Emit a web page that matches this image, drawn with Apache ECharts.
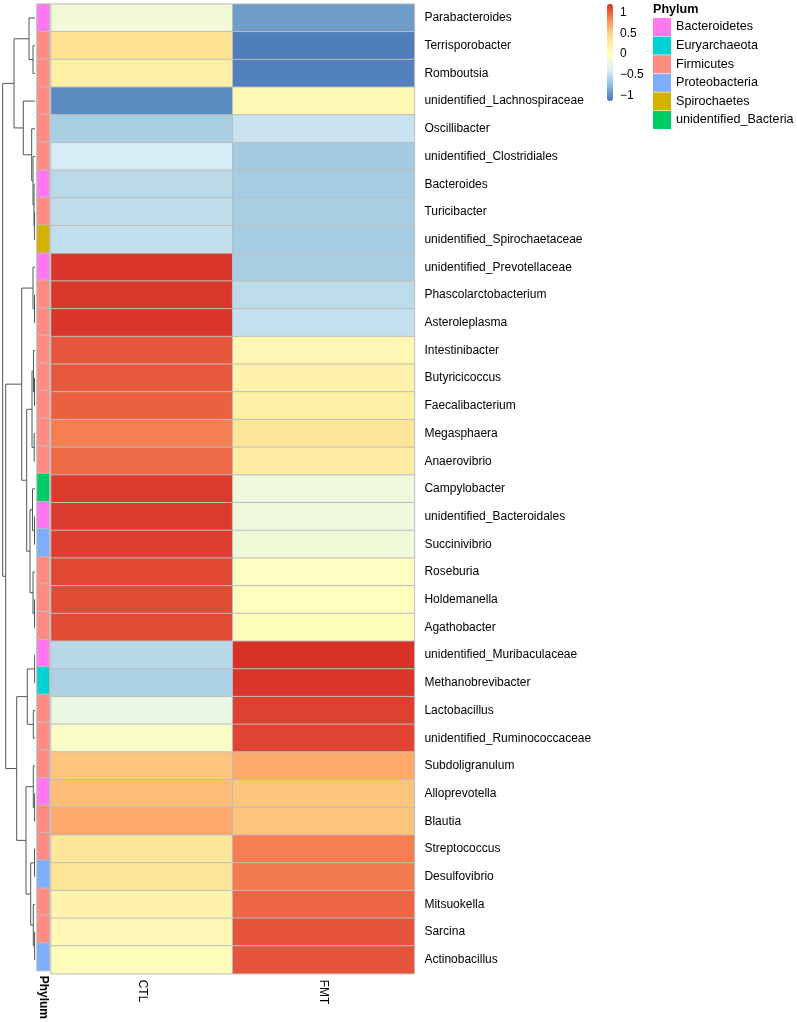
<!DOCTYPE html>
<html>
<head>
<meta charset="utf-8">
<script src="https://cdn.jsdelivr.net/npm/echarts@6/dist/echarts.min.js"></script>
<style>html,body{margin:0;padding:0;background:#fff;}#c{width:797px;height:1022px;}</style>
</head>
<body>
<div id="c"></div>
<script>
const rows = ["Parabacteroides","Terrisporobacter","Romboutsia","unidentified_Lachnospiraceae","Oscillibacter","unidentified_Clostridiales","Bacteroides","Turicibacter","unidentified_Spirochaetaceae","unidentified_Prevotellaceae","Phascolarctobacterium","Asteroleplasma","Intestinibacter","Butyricicoccus","Faecalibacterium","Megasphaera","Anaerovibrio","Campylobacter","unidentified_Bacteroidales","Succinivibrio","Roseburia","Holdemanella","Agathobacter","unidentified_Muribaculaceae","Methanobrevibacter","Lactobacillus","unidentified_Ruminococcaceae","Subdoligranulum","Alloprevotella","Blautia","Streptococcus","Desulfovibrio","Mitsuokella","Sarcina","Actinobacillus"];
const columns = ["CTL","FMT"];
const ctl = [-0.18,0.35,0.19,-1.06,-0.66,-0.44,-0.58,-0.56,-0.54,1.15,1.14,1.15,1.01,1.0,0.97,0.84,0.93,1.13,1.12,1.11,1.07,1.06,1.06,-0.59,-0.64,-0.26,-0.05,0.52,0.55,0.65,0.3,0.34,0.15,0.1,0.03];
const fmt = [-0.96,-1.12,-1.11,0.09,-0.51,-0.69,-0.68,-0.67,-0.68,-0.67,-0.57,-0.53,0.1,0.16,0.19,0.33,0.23,-0.2,-0.19,-0.17,-0.03,0.0,0.03,1.16,1.15,1.1,1.08,0.65,0.52,0.52,0.84,0.86,0.94,1.02,1.02];
const phyla = ["Bacteroidetes","Euryarchaeota","Firmicutes","Proteobacteria","Spirochaetes","unidentified_Bacteria"];
const phylumColors = ["#FF78F0","#00D3D3","#FF8C82","#80AEFF","#D2B400","#00CC66"];
const rowPhylum = ["Bacteroidetes","Firmicutes","Firmicutes","Firmicutes","Firmicutes","Firmicutes","Bacteroidetes","Firmicutes","Spirochaetes","Bacteroidetes","Firmicutes","Firmicutes","Firmicutes","Firmicutes","Firmicutes","Firmicutes","Firmicutes","unidentified_Bacteria","Bacteroidetes","Proteobacteria","Firmicutes","Firmicutes","Firmicutes","Bacteroidetes","Euryarchaeota","Firmicutes","Firmicutes","Firmicutes","Bacteroidetes","Firmicutes","Firmicutes","Proteobacteria","Firmicutes","Firmicutes","Proteobacteria"];
const scaleMin = -1.17, scaleMax = 1.17;
const scaleTicks = [-1,-0.5,0,0.5,1];
const palette = ["#4575B4","#91BFDB","#E0F3F8","#FFFFBF","#FEE090","#FC8D59","#D73027"];
// hclust-style merges: negative = leaf (1-based row), positive = earlier merge
const merges = [[-8,-9],[-7,1],[-6,2],[-5,3],[-4,4],[-2,-3],[-1,6],[7,5],[-11,-12],[-10,9],[-14,-15],[-13,11],[-16,-17],[12,13],[-19,-20],[-18,15],[-22,-23],[-21,17],[16,18],[14,19],[10,20],[-24,-25],[-26,-27],[22,23],[-29,-30],[-28,25],[-31,-32],[-34,-35],[-33,28],[27,29],[26,30],[24,31],[21,32],[8,33]];
const mergeHeights = [0.6,1.0,2.0,3.3,11.7,2.0,6.0,21,0.5,2,0.5,1.5,0.8,3,0.5,2.5,0.5,2,5,8.3,13.3,0.4,1.7,7.7,0.4,1.7,0.5,0.4,1.7,4.3,9,18.3,29.3,32.3];

const FONT = "'Liberation Sans', Arial, Helvetica, sans-serif";
const TOP = 4.15, H = 969.5;

const heatData = [];
rows.forEach((r, i) => { heatData.push([0, i, ctl[i]]); heatData.push([1, i, fmt[i]]); });

const nodeY = [], nodeH = [];
function childInfo(c) {
  if (c < 0) return [0, -c - 1];
  return [nodeH[c - 1], nodeY[c - 1]];
}
const dendData = [];
merges.forEach((m, k) => {
  const a = childInfo(m[0]), b = childInfo(m[1]);
  const h = mergeHeights[k];
  nodeH[k] = h; nodeY[k] = (a[1] + b[1]) / 2;
  dendData.push([a[0], a[1], h, b[1], b[0]]);
});

const annSeries = phyla.map((p, pi) => ({
  type: 'heatmap', name: p, xAxisIndex: 1, yAxisIndex: 1,
  data: rows.map((r, i) => rowPhylum[i] === p ? [0, i, 1] : null).filter(d => d),
  itemStyle: { color: phylumColors[pi], borderColor: '#bdbdbd', borderWidth: 1 },
  emphasis: { disabled: true }
}));

const chart = echarts.init(document.getElementById('c'), null, { renderer: 'canvas' });
chart.setOption({
  animation: false,
  backgroundColor: '#fff',
  textStyle: { fontFamily: FONT },
  title: { text: 'Phylum', left: 653, top: 3, padding: 0, textStyle: { fontSize: 12.6, fontWeight: 'bold', color: '#000', fontFamily: FONT } },
  legend: {
    data: phyla, orient: 'vertical', left: 653, top: 18, padding: 0,
    itemWidth: 18, itemHeight: 18, itemGap: 0.6, icon: 'rect',
    itemStyle: { borderWidth: 0 },
    textStyle: { fontSize: 12.6, color: '#000', fontFamily: FONT }, selectedMode: false
  },
  visualMap: {
    type: 'continuous', min: scaleMin, max: scaleMax, seriesIndex: 0,
    left: 607, top: 4, itemWidth: 6, itemHeight: 97, padding: 0,
    calculable: false, hoverLink: false, inRange: { color: palette }
  },
  grid: [
    { left: 51, top: TOP, width: 363.4, height: H },
    { left: 37, top: TOP, width: 12.5, height: H },
    { left: 2, top: TOP, width: 33, height: H },
    { left: 607, top: 5.5, width: 6, height: 97 }
  ],
  xAxis: [
    { type: 'category', data: columns, gridIndex: 0, axisLine: { show: false }, axisTick: { show: false },
      axisLabel: { rotate: -90, fontSize: 12, color: '#000', margin: 6, fontFamily: FONT } },
    { type: 'category', data: ['Phylum'], gridIndex: 1, axisLine: { show: false }, axisTick: { show: false },
      axisLabel: { rotate: -90, fontSize: 12, fontWeight: 'bold', color: '#000', margin: 5, fontFamily: FONT } },
    { type: 'value', gridIndex: 2, min: 0, max: 33, inverse: true, show: false },
    { type: 'value', gridIndex: 3, show: false, min: 0, max: 1 }
  ],
  yAxis: [
    { type: 'category', data: rows, gridIndex: 0, inverse: true, position: 'right',
      axisLine: { show: false }, axisTick: { show: false },
      axisLabel: { fontSize: 12, color: '#000', margin: 10, fontFamily: FONT } },
    { type: 'category', data: rows, gridIndex: 1, inverse: true, show: false },
    { type: 'value', gridIndex: 2, min: -0.5, max: rows.length - 0.5, inverse: true, show: false },
    { type: 'value', gridIndex: 3, min: scaleMin, max: scaleMax, position: 'right',
      axisLine: { show: false }, axisTick: { show: false }, splitLine: { show: false },
      axisLabel: { customValues: scaleTicks, margin: 7, fontSize: 12, color: '#000', fontFamily: FONT,
        formatter: v => String(v).replace('-', '\u2212') } }
  ],
  series: [
    { type: 'heatmap', name: 'value', xAxisIndex: 0, yAxisIndex: 0, data: heatData,
      itemStyle: { borderColor: '#bdbdbd', borderWidth: 1 }, emphasis: { disabled: true } },
    ...annSeries,
    { type: 'custom', xAxisIndex: 2, yAxisIndex: 2, data: dendData, silent: true,
      renderItem: function (params, api) {
        const p1 = api.coord([api.value(0), api.value(1)]);
        const p2 = api.coord([api.value(2), api.value(1)]);
        const p3 = api.coord([api.value(2), api.value(3)]);
        const p4 = api.coord([api.value(4), api.value(3)]);
        return { type: 'polyline', shape: { points: [p1, p2, p3, p4] },
          style: { stroke: '#555', lineWidth: 1, fill: null } };
      } },
    { type: 'scatter', xAxisIndex: 3, yAxisIndex: 3, data: [] }
  ]
});
</script>
</body>
</html>
